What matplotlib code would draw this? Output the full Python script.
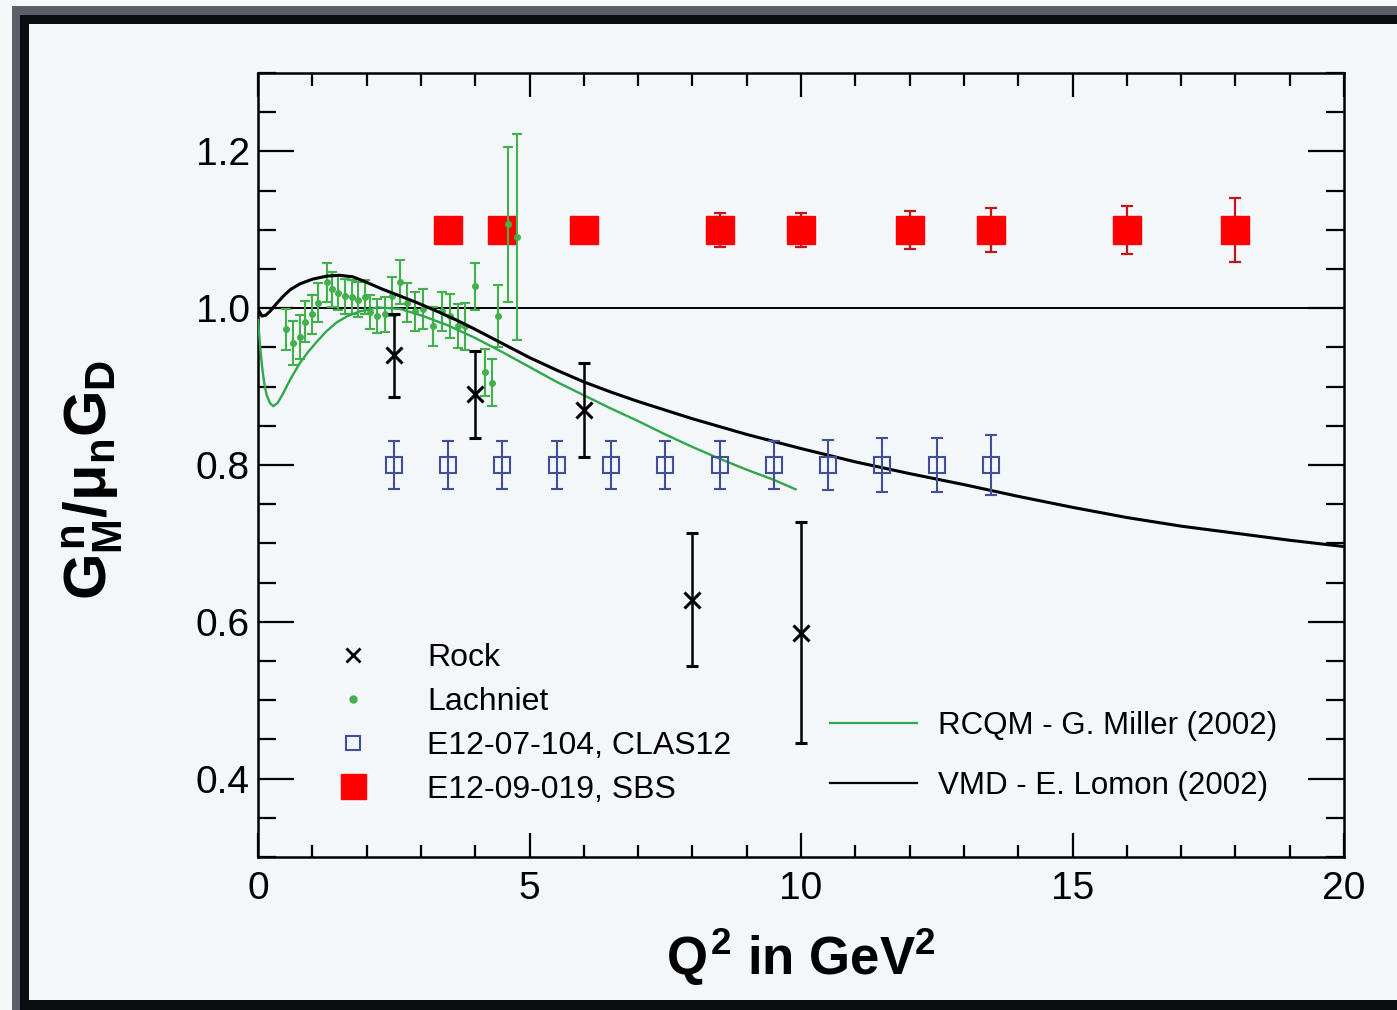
import numpy as np
import matplotlib.pyplot as plt
from matplotlib.lines import Line2D
from matplotlib.patches import Rectangle

plt.rcParams['font.family'] = ['Liberation Sans', 'DejaVu Sans']
plt.rcParams['mathtext.fontset'] = 'custom'
plt.rcParams['mathtext.rm'] = 'Liberation Sans:bold'
plt.rcParams['mathtext.it'] = 'Liberation Sans:bold'
plt.rcParams['mathtext.bf'] = 'Liberation Sans:bold'

# data ------------------------------
rock_q = [2.5, 4.0, 6.0, 8.0, 10.0]
rock_g = [0.940, 0.890, 0.870, 0.628, 0.586]
rock_err = [0.053, 0.056, 0.060, 0.085, 0.141]

lach_q = [0.52, 0.65, 0.77, 0.87, 0.99, 1.11, 1.27, 1.36, 1.48, 1.60, 1.73,
          1.84, 1.97, 2.06, 2.19, 2.34, 2.47, 2.62, 2.74, 2.89, 3.04, 3.22,
          3.39, 3.54, 3.69, 3.81, 4.00, 4.18, 4.31, 4.42, 4.60, 4.76]
lach_g = [0.973, 0.956, 0.963, 0.983, 0.992, 1.007, 1.033, 1.024, 1.020,
          1.015, 1.014, 1.011, 1.014, 0.995, 0.990, 0.992, 1.015, 1.033,
          1.007, 0.996, 0.999, 0.977, 0.996, 0.990, 0.977, 0.977, 1.028,
          0.918, 0.905, 0.990, 1.107, 1.091]
lach_err = [0.026, 0.028, 0.028, 0.026, 0.025, 0.025, 0.025, 0.022, 0.022,
            0.022, 0.022, 0.022, 0.022, 0.022, 0.022, 0.022, 0.025, 0.028,
            0.025, 0.025, 0.025, 0.025, 0.025, 0.028, 0.028, 0.030, 0.030,
            0.030, 0.030, 0.040, 0.099, 0.131]

clas_q = [2.5, 3.5, 4.5, 5.5, 6.5, 7.5, 8.5, 9.5, 10.5, 11.5, 12.5, 13.5]
clas_g = [0.8] * 12
clas_err = [0.030, 0.030, 0.030, 0.030, 0.030, 0.030, 0.030, 0.031, 0.032,
            0.034, 0.035, 0.038]

sbs_q = [3.5, 4.5, 6.0, 8.5, 10.0, 12.0, 13.5, 16.0, 18.0]
sbs_g = [1.1] * 9
sbs_err = [0.010, 0.010, 0.010, 0.022, 0.022, 0.024, 0.028, 0.031, 0.041]

# RCQM - G. Miller
miller_q = [0.0, 0.04, 0.08, 0.12, 0.16, 0.22, 0.28, 0.36, 0.46, 0.6, 0.77,
            0.92, 1.08, 1.25, 1.45, 1.65, 1.88, 2.2, 2.62, 3.04, 3.5, 4.0,
            4.5, 5.0, 5.5, 6.0, 6.5, 7.0, 7.5, 8.0, 8.5, 9.0, 9.5, 9.9]
miller_g = [0.985, 0.95, 0.922, 0.902, 0.889, 0.879, 0.875, 0.879, 0.891,
            0.910, 0.930, 0.944, 0.957, 0.970, 0.982, 0.990, 0.996, 1.001,
            0.999, 0.990, 0.978, 0.962, 0.944, 0.925, 0.906, 0.889, 0.872,
            0.856, 0.839, 0.823, 0.808, 0.794, 0.781, 0.769]

# VMD - E. Lomon
lomon_q = [0.0, 0.07, 0.14, 0.22, 0.33, 0.46, 0.6, 0.77, 1.0, 1.27, 1.5,
           1.75, 2.0, 2.3, 2.6, 2.93, 3.3, 3.65, 4.0, 4.5, 5.0, 5.5, 6.0,
           6.5, 7.0, 7.5, 8.0, 8.5, 9.0, 9.5, 10.0, 11.0, 12.0, 13.0, 14.0,
           15.0, 16.0, 17.0, 18.0, 19.0, 20.0]
lomon_g = [0.999, 0.990, 0.991, 0.996, 1.005, 1.015, 1.024, 1.031, 1.037,
           1.041, 1.042, 1.040, 1.033, 1.024, 1.016, 1.007, 0.996, 0.985,
           0.973, 0.955, 0.937, 0.921, 0.906, 0.893, 0.881, 0.870, 0.859,
           0.849, 0.839, 0.830, 0.821, 0.804, 0.789, 0.775, 0.760, 0.746,
           0.733, 0.722, 0.713, 0.704, 0.696]

bg = '#f3f7fa'
green = '#43b14b'
blue = '#3f4f9c'

fig = plt.figure(figsize=(13.97, 10.10), dpi=100, facecolor=bg)
ax = fig.add_axes([0.1847, 0.1515, 0.7774, 0.7762], facecolor=bg)

# window frame
fig.patches.append(Rectangle((0, 0.994), 1, 0.006, transform=fig.transFigure,
                             facecolor='#f6f7f8', edgecolor='none', zorder=-3))
fig.patches.append(Rectangle((0, 0), 0.0086, 1, transform=fig.transFigure,
                             facecolor='#f6f7f8', edgecolor='none', zorder=-3))
fig.patches.append(Rectangle((0.0086, 0.0), 0.0058, 0.994, transform=fig.transFigure,
                             facecolor='#5b5f68', edgecolor='none', zorder=-2))
fig.patches.append(Rectangle((0.0086, 0.985), 0.9914, 0.009, transform=fig.transFigure,
                             facecolor='#5b5f68', edgecolor='none', zorder=-2))
fig.patches.append(Rectangle((0.0144, 0.0), 0.0064, 0.985, transform=fig.transFigure,
                             facecolor='#0c0d10', edgecolor='none', zorder=-1))
fig.patches.append(Rectangle((0.0144, 0.9762), 0.9856, 0.0088, transform=fig.transFigure,
                             facecolor='#0c0d10', edgecolor='none', zorder=-1))
fig.patches.append(Rectangle((0.0144, 0.0), 0.9856, 0.010, transform=fig.transFigure,
                             facecolor='#0c0d10', edgecolor='none', zorder=-1))

ax.axhline(1.0, color='black', lw=1.4, zorder=1)

ax.errorbar(sbs_q, sbs_g, yerr=sbs_err, fmt='s', color='#ff0000', ms=20,
            ecolor='#c01818', elinewidth=1.6, capsize=4, capthick=1.6, zorder=2)
ax.errorbar(lach_q, lach_g, yerr=lach_err, fmt='o', color=green, ms=4,
            ecolor=green, elinewidth=1.5, capsize=3.5, capthick=1.5, zorder=3)
ax.plot(miller_q, miller_g, color='#2fa84a', lw=1.7, zorder=4)
ax.plot(lomon_q, lomon_g, color='black', lw=2.2, zorder=5)
ax.errorbar(clas_q, clas_g, yerr=clas_err, fmt='s', mfc='none', mec=blue,
            mew=1.5, ms=11, ecolor=blue, elinewidth=1.5, capsize=4.5,
            capthick=1.5, zorder=6)
ax.errorbar(rock_q, rock_g, yerr=rock_err, fmt='x', color='black', ms=11,
            mew=2.2, ecolor='black', elinewidth=1.8, capsize=4.5,
            capthick=1.8, zorder=7)

ax.set_xlim(0, 20)
ax.set_ylim(0.3, 1.3)
ax.set_xticks([0, 5, 10, 15, 20])
ax.set_xticks(np.arange(0, 21, 1), minor=True)
ax.set_yticks([0.4, 0.6, 0.8, 1.0, 1.2])
ax.set_yticks(np.arange(0.3, 1.31, 0.05), minor=True)
ax.set_yticklabels(['0.4', '0.6', '0.8', '1.0', '1.2'])
ax.tick_params(axis='both', which='both', direction='in', top=True,
               right=True, width=1.6, labelsize=28, colors='black')
ax.tick_params(axis='x', which='major', length=17, pad=10)
ax.tick_params(axis='x', which='minor', length=9)
ax.tick_params(axis='y', which='major', length=26, pad=6)
ax.tick_params(axis='y', which='minor', length=13)
for s in ax.spines.values():
    s.set_linewidth(1.8)

ax.set_xlabel(r'$Q^{2}$ in GeV$^{2}$', fontsize=38, fontweight='bold',
              labelpad=14)
ax.set_ylabel(r'$G^{n}_{M}/\mu_{n}G_{D}$', fontsize=43)
ax.yaxis.set_label_coords(-0.1225, 0.481)

# legends
h_points = [
    Line2D([], [], ls='none', marker='x', color='black', ms=10, mew=2),
    Line2D([], [], ls='none', marker='o', color=green, ms=5),
    Line2D([], [], ls='none', marker='s', mfc='none', mec=blue, ms=10, mew=1.5),
    Line2D([], [], ls='none', marker='s', color='#ff0000', ms=18),
]
leg1 = fig.legend(h_points, ['Rock', 'Lachniet', 'E12-07-104, CLAS12',
                             'E12-09-019, SBS'],
                  loc='center left', bbox_to_anchor=(0.2298, 0.2832),
                  frameon=False, fontsize=23, handlelength=2.0,
                  handletextpad=1.32, labelspacing=0.43, borderpad=0,
                  borderaxespad=0)
h_lines = [Line2D([], [], color='#2fa84a', lw=1.6),
           Line2D([], [], color='black', lw=1.6)]
leg2 = fig.legend(h_lines, ['RCQM - G. Miller (2002)', 'VMD - E. Lomon (2002)'],
                  loc='center left', bbox_to_anchor=(0.594, 0.2515),
                  frameon=False, fontsize=22.5, handlelength=2.79,
                  handletextpad=0.67, labelspacing=0.97, borderpad=0,
                  borderaxespad=0)

fig.savefig('out.png', dpi=100, facecolor=bg)
